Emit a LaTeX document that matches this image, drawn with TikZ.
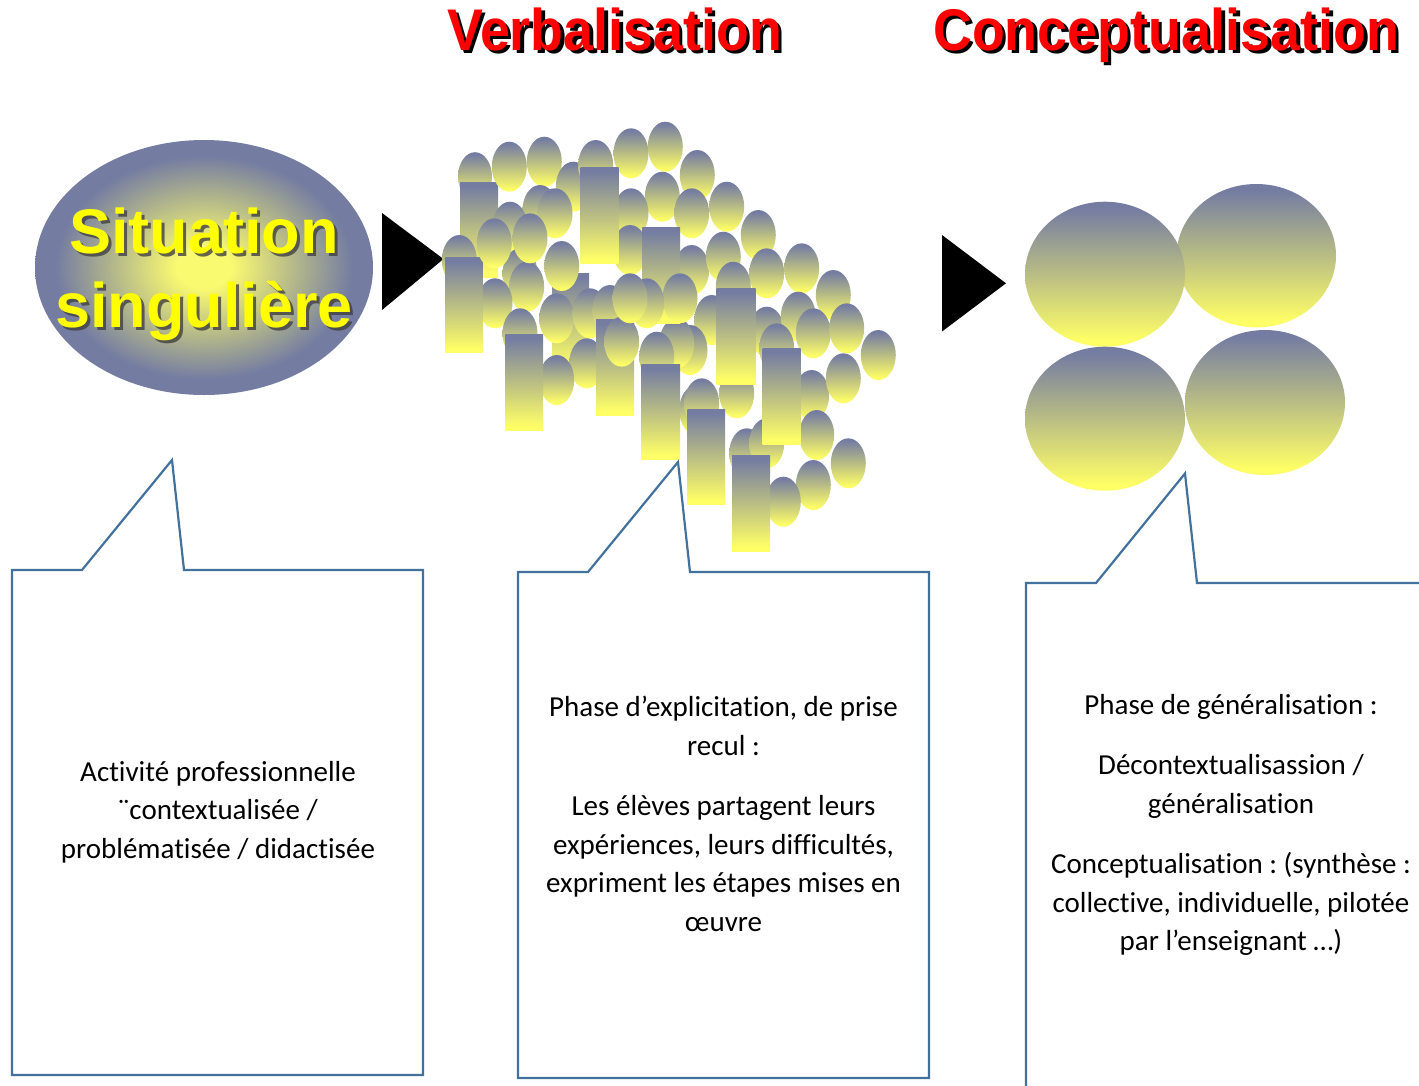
\documentclass[tikz,border=0pt]{standalone}
\usepackage{fontspec}
\setmainfont{Carlito}[Ligatures=NoCommon]
\newfontfamily\heavyfont{Liberation Sans Bold}
\frenchspacing
\definecolor{slate}{RGB}{116,124,162}
\definecolor{paleyel}{RGB}{255,255,102}
\definecolor{sunyel}{RGB}{250,250,112}
\definecolor{callblue}{RGB}{65,113,156}
\definecolor{titlered}{RGB}{255,0,0}
\definecolor{sityel}{RGB}{255,255,0}
\pgfdeclareradialshading{sitshade}{\pgfpoint{0bp}{0bp}}{color(0bp)=(sunyel); color(4bp)=(sunyel); color(22bp)=(slate); color(50bp)=(slate)}
\pgfdeclareverticalshading{blobshade}{100bp}{color(0bp)=(paleyel); color(27bp)=(paleyel); color(73bp)=(slate); color(100bp)=(slate)}
\tikzset{
  blob/.style={shading=blobshade, draw=none},
  callout/.style={draw=callblue, line width=2.2pt, line join=miter},
  bodytext/.style={font=\fontsize{29}{38.5}\selectfont\frenchspacing, align=center, inner sep=0pt, text=black},
  titletext/.style={font=\heavyfont\fontsize{56}{60}\selectfont, inner sep=0pt, anchor=base west, xscale=0.96, yscale=1.05},
  sittext/.style={font=\heavyfont\fontsize{63}{70}\selectfont, inner sep=0pt, anchor=base},
  playtri/.style={fill=black, draw=none}
}
\begin{document}
\begin{tikzpicture}[x=1pt,y=-1pt]
\useasboundingbox (0,0) rectangle (1419,1085);
% titles
\node[titletext, text=black] (verbsh) at (450.5,53.5) {Verbalisation};
\node[titletext, text=titlered] (verb) at (447,50) {Verbalisation};
\node[titletext, text=black] (concsh) at (936.5,53.5) {Conceptualisation};
\node[titletext, text=titlered] (conc) at (933,50) {Conceptualisation};
% situation ellipse
\shade[shading=sitshade] (204,267.5) ellipse [x radius=169pt, y radius=127.5pt];
\node[sittext, text=black!75, opacity=0.8] (sit1sh) at (207,256) {Situation};
\node[sittext, text=black!75, opacity=0.8] (sit2sh) at (207,330) {singulière};
\node[sittext, text=sityel] (sit1) at (204,253) {Situation};
\node[sittext, text=sityel] (sit2) at (204,327) {singulière};
% arrows (triangles)
\fill[playtri] (382,213) -- (382,310) -- (443.5,259) -- cycle;
\fill[playtri] (942,235) -- (942,331.5) -- (1006,283.3) -- cycle;
% bubble cluster: back
\shade[blob] (475,176.7) ellipse [x radius=17pt, y radius=24.5pt];
\shade[blob] (460,182) rectangle (498,277);
\shade[blob] (552,273) rectangle (589,369);
\foreach \cx/\cy in {
509.3/166.7, 544.3/161.7, 573.3/186.7, 595.7/165, 631/153.3, 665.3/146.7,
697.3/175, 662.3/196.7, 631/213.3, 726.7/206.7, 691.7/213.3, 758.3/235,
540/210, 555/213.3, 510/226.7, 459.3/260, 561.7/266, 520/273.3, 526.7/286.7,
630/250, 691.7/270, 723.3/256.7, 766.7/273.3, 801.7/268.3, 833.3/295,
495/303.3, 556.7/318.3, 590/313.3, 610/310, 520/333.3, 733.3/286.7,
711.7/320, 690/350, 676.7/343.3, 766.7/331.7, 798.3/316.7, 813.3/333.3,
846.7/328.3, 878.3/355, 776.7/348.3, 586.7/363.3, 556.7/380, 656.7/356.7,
736.7/393.3, 811.7/395, 843.3/378.3, 696.7/410, 701.7/403.3, 816.7/435,
746.7/453.3, 766.7/443.3, 848.3/463.3, 813.3/485, 783.3/501.7}
  \shade[blob] (\cx,\cy) ellipse [x radius=17.5pt, y radius=25pt];
% bubble cluster: rectangles
\foreach \ax/\ay/\bx/\by in {
580.7/167.3/618.7/263.3, 445.3/257/482.7/352.7, 642.3/227.7/680/323.3,
505.3/334/543/430, 596/319.3/634/415, 641.3/364/680/459.3,
716.7/288.3/755.7/384, 762.7/348.3/800.7/444, 687.3/409/725/504.7,
732/455.3/770/551}
  \shade[blob] (\ax,\ay) rectangle (\bx,\by);
% bubble cluster: front
\foreach \cx/\cy in {494.3/243.3, 530/238.3, 621.7/341.7, 680/298.3, 646.7/303.3, 630/298.3}
  \shade[blob] (\cx,\cy) ellipse [x radius=17.5pt, y radius=25pt];
% four big circles
\shade[blob] (1256.3,255.7) ellipse [x radius=79.7pt, y radius=71.7pt];
\shade[blob] (1105,274.2) ellipse [x radius=80pt, y radius=72.5pt];
\shade[blob] (1105,418.7) ellipse [x radius=80pt, y radius=72pt];
\shade[blob] (1265,402.5) ellipse [x radius=80pt, y radius=72.5pt];
% callouts
\draw[callout] (12,570) -- (82,570) -- (172,460) -- (184,570) -- (423,570) -- (423,1075) -- (12,1075) -- cycle;
\draw[callout] (518,572) -- (588,572) -- (678,462) -- (690,572) -- (929,572) -- (929,1078) -- (518,1078) -- cycle;
\draw[callout] (1026,1095) -- (1026,583) -- (1096,583) -- (1185,473.5) -- (1197,583) -- (1430,583);
% texts
\node[bodytext] (t1) at (218,812) {Activité professionnelle\\¨contextualisée /\\problématisée / didactisée};
\node[bodytext] (t2) at (723.5,814) {Phase d’explicitation, de prise\\recul :\\[22pt]Les élèves partagent leurs\\expériences, leurs difficultés,\\expriment les étapes mises en\\œuvre};
\node[bodytext] (t3) at (1231,825) {Phase de généralisation :\\[22pt]Décontextualisassion /\\généralisation\\[22pt]Conceptualisation : (synthèse :\\collective, individuelle, pilotée\\par l’enseignant …)};
\end{tikzpicture}
\end{document}
